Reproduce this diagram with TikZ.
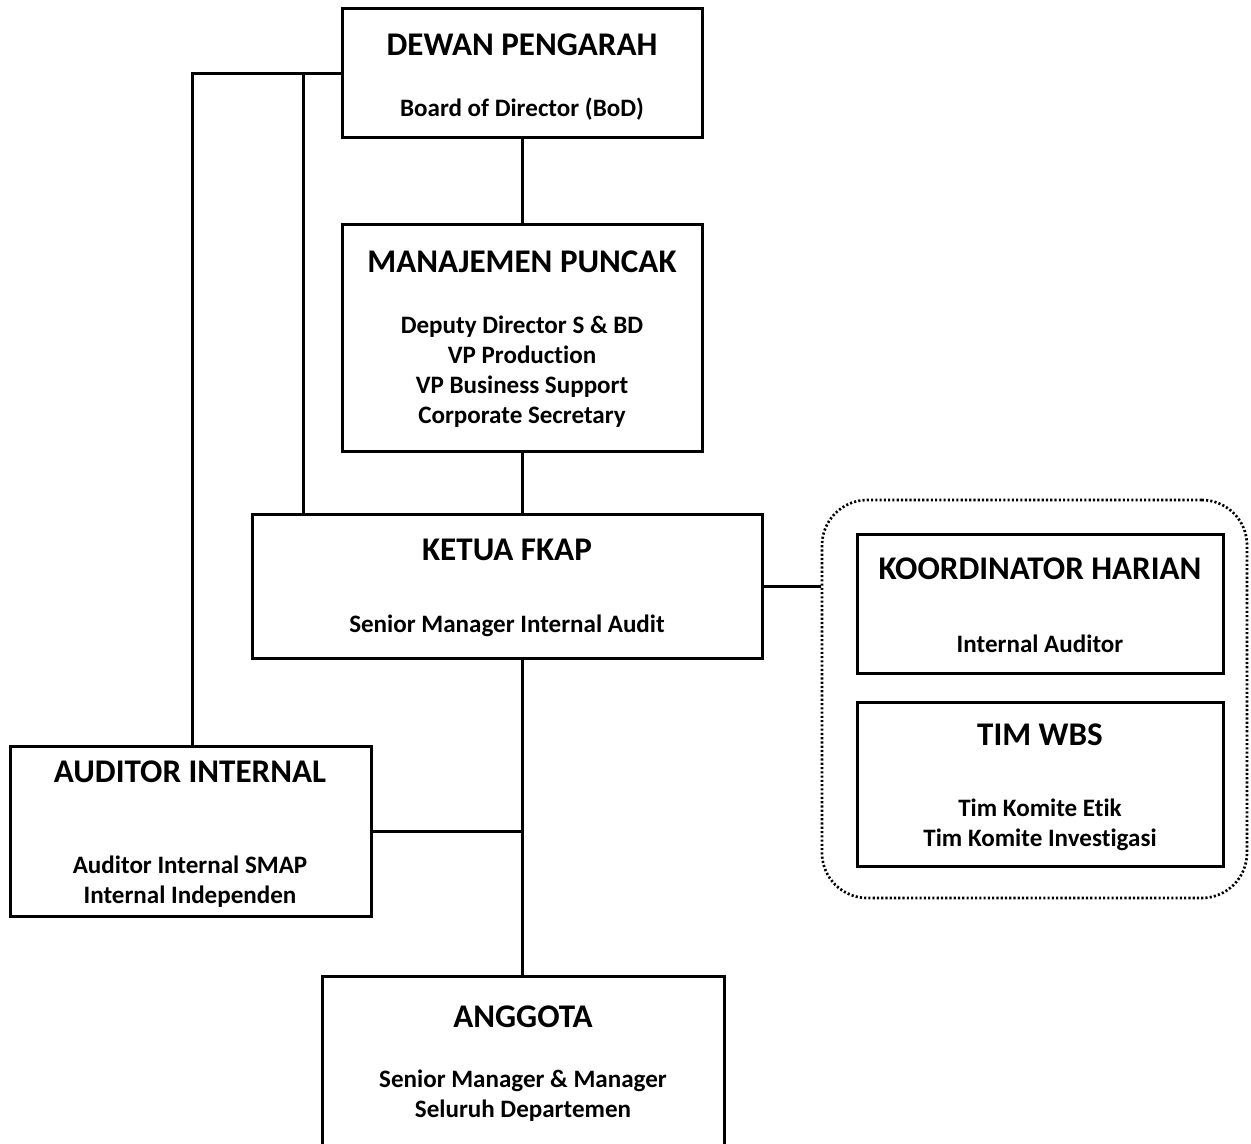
\documentclass[tikz,border=0pt]{standalone}
\usepackage{fontspec}
\setmainfont[Ligatures=NoCommon]{Carlito}
\begin{document}
\begin{tikzpicture}[x=0.75pt,y=-0.75pt,
  box/.style={draw, line width=2.25pt, inner sep=0pt},
  grp/.style={draw, line width=2pt, dash pattern=on 1.6pt off 1.6pt, rounded corners=34pt, inner sep=0pt},
  conn/.style={line width=2.25pt},
  ttl/.style={font=\fontsize{24.8}{29}\selectfont\bfseries, inner sep=0pt},
  sub/.style={font=\fontsize{18.8}{22.5}\selectfont\bfseries, align=center, inner sep=0pt}]
\useasboundingbox (0,0) rectangle (1251,1144);
\newcommand\mybox[6][box]{\node[#1, minimum width={(#5-#3)*0.75pt}, minimum height={(#6-#4)*0.75pt}] (#2) at ({(#3+#5)/2},{(#4+#6)/2}) {};}
\mybox{dewan}{342}{9}{702}{138}
\mybox{manaj}{342}{225}{702}{451}
\mybox{ketua}{252}{514}{762}{658}
\mybox[grp]{grp}{822}{500}{1247}{898}
\mybox{koord}{857}{534}{1223}{673}
\mybox{wbs}{857}{702}{1223}{866}
\mybox{aud}{10}{746}{371}{916}
\mybox{angg}{322}{976}{724}{1170}
% texts
\node[ttl] (t1) at (522,45) {DEWAN PENGARAH};
\node[sub] (s1) at (522,109) {Board of Director (BoD)};
\node[ttl] (t2) at (522,262) {MANAJEMEN PUNCAK};
\node[sub] (s2) at (522,372) {Deputy Director S \& BD\\VP Production\\VP Business Support\\Corporate Secretary};
\node[ttl] (t3) at (507,550) {KETUA FKAP};
\node[sub] (s3) at (507,626) {Senior Manager Internal Audit};
\node[ttl] (t4) at (1040,569) {KOORDINATOR HARIAN};
\node[sub] (s4) at (1040,644) {Internal Auditor};
\node[ttl] (t5) at (1040,735) {TIM WBS};
\node[sub] (s5) at (1040,825) {Tim Komite Etik\\Tim Komite Investigasi};
\node[ttl] (t6) at (190,772) {AUDITOR INTERNAL};
\node[sub] (s6) at (190,882) {Auditor Internal SMAP\\Internal Independen};
\node[ttl] (t7) at (523,1017) {ANGGOTA};
\node[sub] (s7) at (523,1096) {Senior Manager \& Manager\\Seluruh Departemen};
% connectors
\path (dewan.west) ++(-148,0) coordinate (j1);
\path (dewan.west) ++(-37,0) coordinate (j2);
\draw[conn] (dewan.west) -- (j1) -- (j1 |- aud.north);
\draw[conn] (j2) -- (j2 |- ketua.north);
\draw[conn] (dewan.south) -- (manaj.north);
\draw[conn] (manaj.south) -- (manaj.south |- ketua.north);
\draw[conn] (ketua.east) -- (grp.west |- ketua.east);
\draw[conn] (ketua.south -| manaj.south) -- (manaj.south |- angg.north);
\draw[conn] (aud.east) -- (aud.east -| manaj.south);
\end{tikzpicture}
\end{document}
